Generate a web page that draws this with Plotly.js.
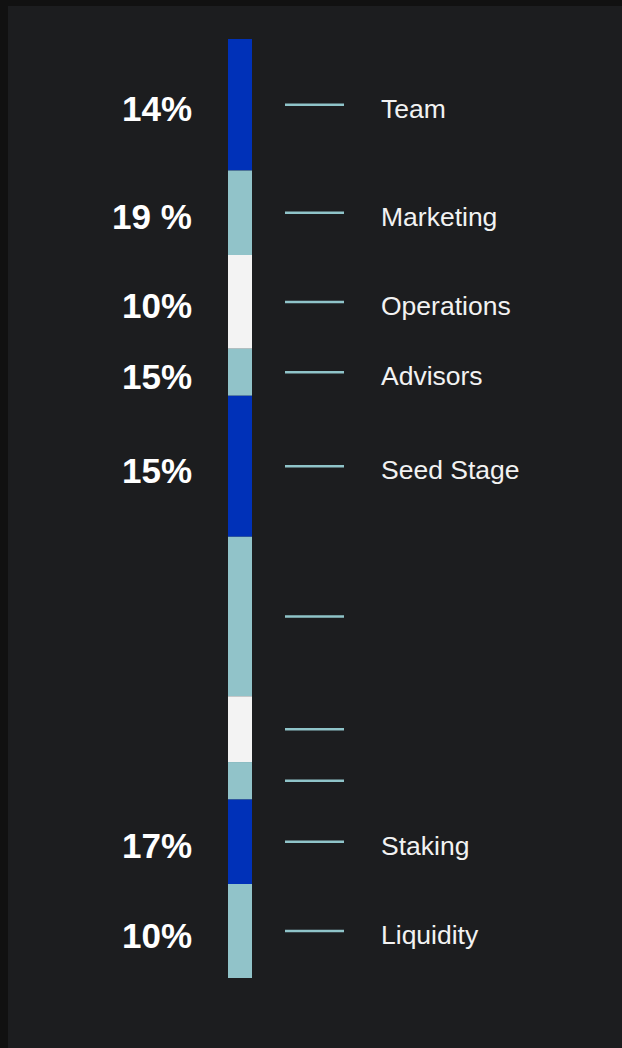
<!DOCTYPE html>
<html>
<head>
<meta charset="utf-8">
<script src="https://cdn.plot.ly/plotly-3.0.1.min.js"></script>
<style>
html,body{margin:0;padding:0;background:#111111;width:622px;height:1048px;overflow:hidden;}
#chart{position:absolute;left:8px;top:6px;width:614px;height:1042px;}
</style>
</head>
<body>
<div id="chart"></div>
<script>
// Segment sizes (share of the bar, top to bottom)
const segments = ["Team","Marketing","Operations","Advisors","Seed Stage","Segment 6","Segment 7","Segment 8","Staking","Liquidity"];
const values = [14, 9, 10, 5, 15, 17, 7, 4, 9, 10];
const percentLabels = ["14%","19 %","10%","15%","15%","","","","17%","10%"];
const nameLabels = ["Team","Marketing","Operations","Advisors","Seed Stage","","","","Staking","Liquidity"];
const colors = ["#0031b8","#91c3c9","#f3f3f3","#91c3c9","#0031b8","#91c3c9","#f3f3f3","#91c3c9","#0031b8","#91c3c9"];

const bases = [];
let acc = 0;
values.forEach(v => { bases.push(acc); acc += v; });
const centers = values.map((v, i) => bases[i] + v / 2);

const BAR_X = 232, BAR_W = 24, LINE_X0 = 277, LINE_X1 = 336, PCT_X = 186, NAME_X = 371;
const FONT = "Arial";

const barTrace = {
  type: "bar",
  x: values.map(() => BAR_X),
  y: values,
  base: bases,
  width: values.map(() => BAR_W),
  marker: {color: colors, line: {width: 0}},
  hoverinfo: "skip",
  showlegend: false
};

const lx = [], ly = [];
centers.forEach(c => { lx.push(LINE_X0, LINE_X1, null); ly.push(c, c, null); });
const lineTrace = {
  type: "scatter", mode: "lines", x: lx, y: ly,
  line: {color: "#8fc4c9", width: 2.5},
  hoverinfo: "skip", showlegend: false
};

const annotations = [];
centers.forEach((c, i) => {
  if (percentLabels[i]) annotations.push({
    x: PCT_X, y: c, xref: "x", yref: "y", text: percentLabels[i], showarrow: false,
    xanchor: "right", yanchor: "middle", yshift: -4,
    font: {family: FONT, size: 35, color: "#ffffff", weight: "bold"}
  });
  if (nameLabels[i]) annotations.push({
    x: NAME_X, y: c, xref: "x", yref: "y", text: nameLabels[i], showarrow: false,
    xanchor: "left", yanchor: "middle", yshift: -4,
    font: {family: FONT, size: 26.5, color: "#f2f2f2"}
  });
});

const layout = {
  width: 614, height: 1042,
  margin: {l: 0, r: 0, t: 33, b: 70, pad: 0},
  paper_bgcolor: "#1c1d1f", plot_bgcolor: "rgba(0,0,0,0)",
  barmode: "overlay",
  font: {family: FONT},
  xaxis: {range: [0, 614], visible: false, fixedrange: true},
  yaxis: {range: [100, 0], visible: false, fixedrange: true},
  annotations: annotations,
  showlegend: false
};

Plotly.newPlot("chart", [barTrace, lineTrace], layout, {displayModeBar: false, staticPlot: true});
</script>
</body>
</html>
